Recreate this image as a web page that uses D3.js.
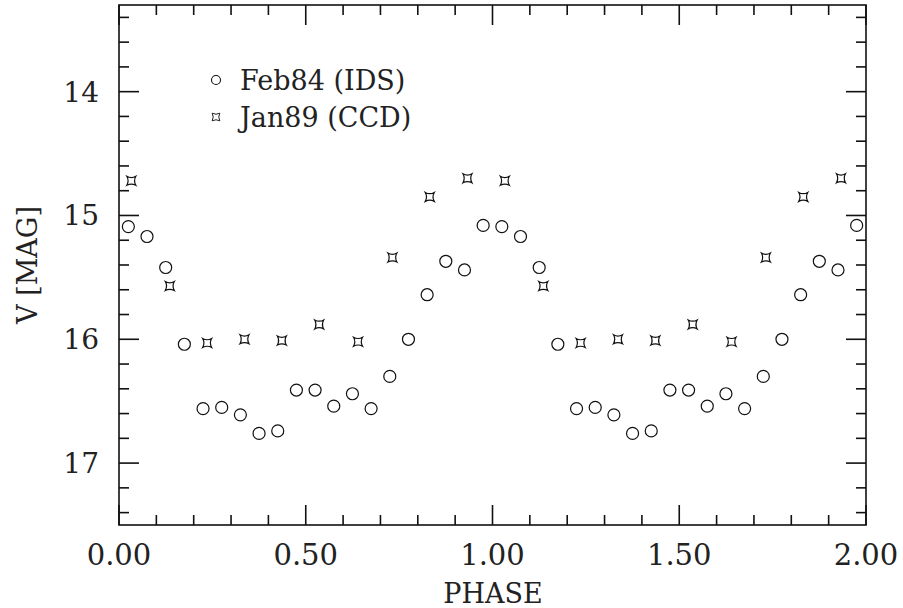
<!DOCTYPE html>
<html>
<head>
<meta charset="utf-8">
<script src="https://cdn.jsdelivr.net/npm/d3@7"></script>
<style>
  body { margin: 0; background: #fff; }
  text { font-family: "DejaVu Serif", "Liberation Serif", serif; fill: #222; }
</style>
</head>
<body>
<div id="chart"></div>
<script>
//Data (one cycle, drawn twice: phase and phase + 1)

const idsPhase = [0.025, 0.075, 0.125, 0.175, 0.225, 0.275, 0.325, 0.375, 0.425, 0.475,
                  0.525, 0.575, 0.625, 0.675, 0.725, 0.775, 0.825, 0.875, 0.925, 0.975];
const idsMag   = [15.09, 15.17, 15.42, 16.04, 16.56, 16.55, 16.61, 16.76, 16.74, 16.41,
                  16.41, 16.54, 16.44, 16.56, 16.30, 16.00, 15.64, 15.37, 15.44, 15.08];

const ccdPhase = [0.033, 0.136, 0.236, 0.336, 0.436, 0.536, 0.640, 0.732, 0.832, 0.933];
const ccdMag   = [14.72, 15.57, 16.03, 16.00, 16.01, 15.88, 16.02, 15.34, 14.85, 14.70];

const xTicks = [0, 0.5, 1, 1.5, 2];
const yTicks = [14, 15, 16, 17];
const legendLabels = ["Feb84 (IDS)", "Jan89 (CCD)"];

//Dimensions

const W = 903, H = 608;
const pLeft = 119, pRight = 866, pTop = 5, pBottom = 525;

const svg = d3.select("#chart").append("svg")
  .attr("width", W).attr("height", H);

const x = d3.scaleLinear().domain([0, 2]).range([pLeft, pRight]);
const y = d3.scaleLinear().domain([13.3, 17.5]).range([pTop, pBottom]);

//Frame

svg.append("rect")
  .attr("x", pLeft).attr("y", pTop)
  .attr("width", pRight - pLeft).attr("height", pBottom - pTop)
  .attr("fill", "none").attr("stroke", "#111").attr("stroke-width", 1.6);

//Ticks, pointing inward on all four sides

const xMinor = d3.range(1, 20).map(d => d / 10).filter(d => Math.abs(d * 2 - Math.round(d * 2)) > 1e-6);
const yMinor = d3.range(134, 175, 2).map(d => d / 10).filter(d => Math.abs(d - Math.round(d)) > 1e-6);

const ticks = svg.append("g").attr("stroke", "#111").attr("stroke-width", 1.6);

function xTick(v, len) {
  ticks.append("line").attr("x1", x(v)).attr("x2", x(v)).attr("y1", pBottom).attr("y2", pBottom - len);
  ticks.append("line").attr("x1", x(v)).attr("x2", x(v)).attr("y1", pTop).attr("y2", pTop + len);
}
function yTick(v, len) {
  ticks.append("line").attr("y1", y(v)).attr("y2", y(v)).attr("x1", pLeft).attr("x2", pLeft + len);
  ticks.append("line").attr("y1", y(v)).attr("y2", y(v)).attr("x1", pRight).attr("x2", pRight - len);
}
xTicks.forEach(v => xTick(v, 20));
xMinor.forEach(v => xTick(v, 10));
yTicks.forEach(v => yTick(v, 20));
yMinor.forEach(v => yTick(v, 10));

//Tick labels

svg.append("g").selectAll("text").data(xTicks).join("text")
  .attr("x", d => x(d)).attr("y", 565)
  .attr("text-anchor", "middle").attr("font-size", 29)
  .text(d => d3.format(".2f")(d));

svg.append("g").selectAll("text").data(yTicks).join("text")
  .attr("x", 99).attr("y", d => y(d) + 10)
  .attr("text-anchor", "end").attr("font-size", 28)
  .text(d => d);

//Axis titles

svg.append("text")
  .attr("x", 493).attr("y", 603)
  .attr("text-anchor", "middle").attr("font-size", 27)
  .text("PHASE");

svg.append("text")
  .attr("transform", "translate(37,265) rotate(-90)")
  .attr("text-anchor", "middle").attr("font-size", 27)
  .text("V [MAG]");

//Markers

const starPath = "M-4.5,-4.5 Q0,-2 4.5,-4.5 Q2,0 4.5,4.5 Q0,2 -4.5,4.5 Q-2,0 -4.5,-4.5 Z";

const idsData = [];
const ccdData = [];
[0, 1].forEach(c => {
  idsPhase.forEach((p, i) => idsData.push({ x: p + c, y: idsMag[i] }));
  ccdPhase.forEach((p, i) => ccdData.push({ x: p + c, y: ccdMag[i] }));
});

svg.append("g").selectAll("circle").data(idsData).join("circle")
  .attr("cx", d => x(d.x)).attr("cy", d => y(d.y)).attr("r", 6)
  .attr("fill", "none").attr("stroke", "#111").attr("stroke-width", 1.2);

svg.append("g").selectAll("path").data(ccdData).join("path")
  .attr("transform", d => `translate(${x(d.x)},${y(d.y)})`)
  .attr("d", starPath)
  .attr("fill", "none").attr("stroke", "#111").attr("stroke-width", 1.2);

//Legend

const leg = svg.append("g");
leg.append("circle").attr("cx", 216).attr("cy", 80).attr("r", 4.5)
  .attr("fill", "none").attr("stroke", "#111").attr("stroke-width", 1.1);
leg.append("path").attr("transform", "translate(216,117) scale(0.85)").attr("d", starPath)
  .attr("fill", "none").attr("stroke", "#111").attr("stroke-width", 1.1);
leg.selectAll("text").data(legendLabels).join("text")
  .attr("x", 240).attr("y", (d, i) => 90 + i * 37)
  .attr("font-size", 27)
  .text(d => d);
</script>
</body>
</html>
